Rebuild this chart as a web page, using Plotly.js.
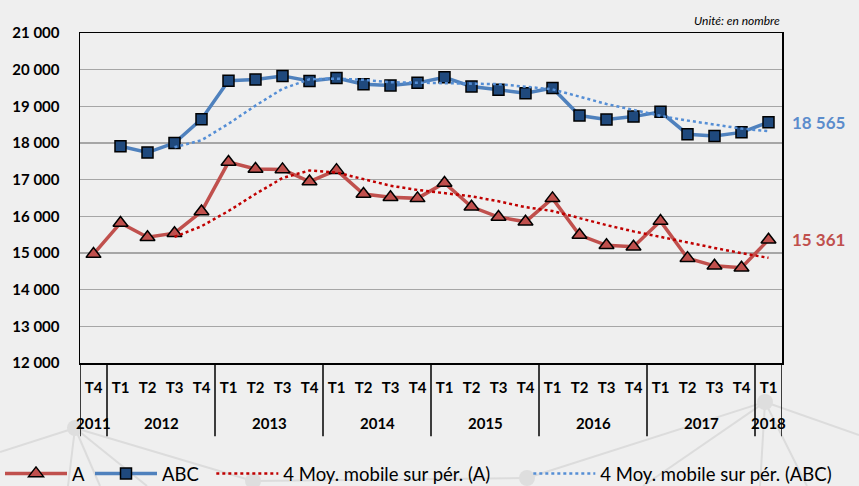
<!DOCTYPE html>
<html>
<head>
<meta charset="utf-8">
<script src="https://cdn.plot.ly/plotly-3.0.1.min.js"></script>
<style>
html,body{margin:0;padding:0;background:#efefef;}
#chart{width:859px;height:486px;}
</style>
</head>
<body>
<div id="chart"></div>
<script>
// Categories
const years = ['2011','2012','2012','2012','2012','2013','2013','2013','2013','2014','2014','2014','2014','2015','2015','2015','2015','2016','2016','2016','2016','2017','2017','2017','2017','2018'];
const quarters = ['T4','T1','T2','T3','T4','T1','T2','T3','T4','T1','T2','T3','T4','T1','T2','T3','T4','T1','T2','T3','T4','T1','T2','T3','T4','T1'];

// Series values
const seriesA = [14970,15820,15430,15540,16130,17480,17290,17280,16950,17260,16610,16520,16490,16910,16260,15980,15850,16490,15490,15210,15170,15870,14860,14650,14600,15361];
const seriesABC = [null,17910,17740,18000,18650,19700,19730,19830,19690,19770,19600,19570,19640,19790,19540,19450,19360,19500,18750,18640,18720,18850,18240,18190,18290,18565];
const maA = [null,null,null,15440,15730,16145,16610,17045,17250,17195,17025,16835,16720,16633,16545,16410,16250,16145,15953,15760,15590,15435,15278,15138,14995,14868];
const maABC = [null,null,null,17883,18075,18523,19020,19478,19738,19755,19723,19658,19645,19650,19635,19605,19535,19463,19265,19063,18903,18740,18613,18500,18393,18321];

// Tick / text labels
const seriesNames = ['A','ABC','4 Moy. mobile sur pér. (A)','4 Moy. mobile sur pér. (ABC)'];
const unitLabel = 'Unité: en nombre';

const fmt = v => String(Math.round(v)).replace(/\B(?=(\d{3})+(?!\d))/g, ' ');
const keys = years.map((y, i) => y + ' ' + quarters[i]);
const red = '#c0504d', blue = '#4f81bd';

// year groups -> dividers and year labels
const groups = [];
years.forEach((y, i) => {
  if (i === 0 || y !== years[i - 1]) groups.push({year: y, start: i, end: i});
  else groups[groups.length - 1].end = i;
});
const divY1 = -0.222;
const shapes = [];
groups.forEach(g => shapes.push({type:'line', xref:'x', yref:'paper', x0:g.start - 0.5, x1:g.start - 0.5, y0:0, y1:divY1, line:{color:'#000', width:1.5}}));
shapes.push({type:'line', xref:'x', yref:'paper', x0:years.length - 0.5, x1:years.length - 0.5, y0:0, y1:divY1, line:{color:'#000', width:1.5}});

// faint decorative background network (page decoration, not data)
const W = 859, H = 486, L = 80, T = 33, PW = 702, PH = 330;
const px = v => (v - L) / PW, py = v => (T + PH - v) / PH;
const deco = [[75,428,0,452],[75,428,68,486],[75,428,100,486],[75,428,147,486],[75,428,253,481],
              [253,481,527,478],[527,478,765,402],[765,402,643,486],[765,402,760,486],[765,402,807,486],[765,402,859,435]];
deco.forEach(d => shapes.push({type:'line', xref:'paper', yref:'paper', layer:'below',
  x0:px(d[0]), y0:py(d[1]), x1:px(d[2]), y1:py(d[3]), line:{color:'#dcdcdc', width:2}}));
[[75,428],[765,402],[253,481],[527,478]].forEach(n => shapes.push({type:'circle', xref:'paper', yref:'paper', layer:'below',
  x0:px(n[0]-8), x1:px(n[0]+8), y0:py(n[1]-8), y1:py(n[1]+8), fillcolor:'#dedede', line:{width:0}}));

const yearAnns = groups.map(g => ({xref:'x', yref:'paper', x:(g.start + g.end) / 2, y:-0.182, yanchor:'middle',
  text:'<b>' + g.year + '</b>', showarrow:false, font:{size:15, color:'#000'}}));

const traces = [
  {x:keys, y:seriesA, name:seriesNames[0], type:'scatter', mode:'lines+markers', legend:'legend',
   line:{color:red, width:3.5},
   marker:{symbol:'triangle-up', size:13, color:red, line:{color:'#000', width:1.5}}},
  {x:keys, y:seriesABC, name:seriesNames[1], type:'scatter', mode:'lines+markers', legend:'legend',
   line:{color:blue, width:3.5},
   marker:{symbol:'square', size:11, color:'#1f497d', line:{color:'#000', width:1.5}}},
  {x:keys, y:maA, name:seriesNames[2], type:'scatter', mode:'lines', legend:'legend2',
   line:{color:'#c00000', width:2.5, dash:'dot'}},
  {x:keys, y:maABC, name:seriesNames[3], type:'scatter', mode:'lines', legend:'legend2',
   line:{color:'#558ed5', width:2.5, dash:'dot'}}
];

const legendBase = {orientation:'h', xref:'container', yref:'container', xanchor:'left', y:0.025, yanchor:'middle',
                    font:{size:18.5, color:'#000'}, bgcolor:'rgba(0,0,0,0)', itemwidth:62};

const layout = {
  width:W, height:H,
  margin:{l:80, r:77, t:33, b:123, autoexpand:false},
  paper_bgcolor:'#efefef', plot_bgcolor:'#efefef',
  separators:', ',
  font:{family:'Lato, "Open Sans", sans-serif', color:'#000'},
  showlegend:true,
  legend:Object.assign({}, legendBase, {x:-0.008}),
  legend2:Object.assign({}, legendBase, {x:0.246, entrywidth:240, entrywidthmode:'pixels'}),
  xaxis:{type:'category', categoryorder:'array', categoryarray:keys, range:[-0.5, keys.length - 0.5],
         tickvals:keys, ticktext:quarters.map(q => '<b>' + q + '</b>'),
         showline:true, linecolor:'#000', linewidth:1.5, mirror:true,
         showgrid:false, ticks:'', ticklabelstandoff:10,
         tickfont:{size:15, color:'#000'}},
  yaxis:{range:[12000,21000], dtick:1000, tickformat:',d', tickprefix:'<b>', ticksuffix:'</b>',
         showline:true, linecolor:'#000',
         linewidth:1.5, mirror:true, showgrid:true, gridcolor:'#a6a6a6', gridwidth:1.5,
         ticks:'', ticklabelstandoff:16, zeroline:false,
         tickfont:{size:15, color:'#000'}},
  shapes:shapes,
  annotations:[
    {xref:'paper', yref:'paper', x:1, y:1, xanchor:'right', yanchor:'bottom', yshift:3,
     text:unitLabel, showarrow:false, font:{size:12, style:'italic', color:'#000'}},
    {xref:'paper', yref:'y', x:1, y:seriesABC[seriesABC.length-1], xanchor:'left', xshift:8,
     text:'<b>'+fmt(seriesABC[seriesABC.length-1])+'</b>', showarrow:false,
     font:{size:17, color:'#5b8ccc'}},
    {xref:'paper', yref:'y', x:1, y:seriesA[seriesA.length-1], xanchor:'left', xshift:8,
     text:'<b>'+fmt(seriesA[seriesA.length-1])+'</b>', showarrow:false,
     font:{size:17, color:red}}
  ].concat(yearAnns)
};

Plotly.newPlot('chart', traces, layout, {displayModeBar:false, staticPlot:true});
</script>
</body>
</html>
